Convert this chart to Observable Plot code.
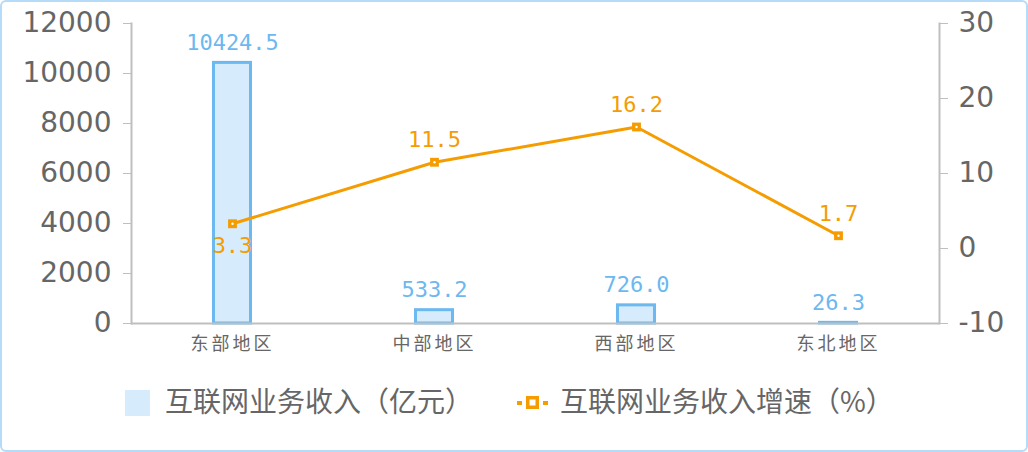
<!DOCTYPE html>
<html><head><meta charset="utf-8">
<script src="https://cdn.jsdelivr.net/npm/d3@7"></script>
<script src="https://cdn.jsdelivr.net/npm/@observablehq/plot@0.6"></script>
<style>
body{margin:0;background:#fff;}
#wrap{position:relative;width:1028px;height:452px;overflow:hidden;background:#fff;}
#border{position:absolute;left:0;top:0;width:1028px;height:452px;box-sizing:border-box;border:2px solid #b5dbf8;border-radius:6px;pointer-events:none;}
#chart{position:absolute;left:0;top:0;}
#chart g[aria-label="x-axis tick label"] text{letter-spacing:3px;}
.leg{position:absolute;top:382px;font-family:"Noto Sans CJK SC",sans-serif;font-size:28px;color:#666;line-height:36px;white-space:nowrap;}
</style></head>
<body>
<div id="wrap">
  <div id="chart"></div>
  <div class="leg" style="left:125px;"><span style="display:inline-block;width:25px;height:26px;background:#d6ebfb;vertical-align:-4px;margin-right:15px;"></span>互联网业务收入（亿元）</div>
  <div class="leg" style="left:517px;"><svg width="31" height="24" style="vertical-align:-3px;margin-right:12px;"><rect x="0" y="10" width="5" height="4" fill="#f59c00"/><rect x="26" y="10" width="5" height="4" fill="#f59c00"/><rect x="9" y="5" width="13" height="13" fill="#f59c00"/><rect x="12.5" y="8.5" width="6" height="6" fill="#fff"/></svg>互联网业务收入增速（%）</div>
  <div id="border"></div>
</div>
<script>
const regions = ["东部地区", "中部地区", "西部地区", "东北地区"];
const revenue = [10424.5, 533.2, 726.0, 26.3];
const growth = [3.3, 11.5, 16.2, 1.7];
const leftTicks = [0, 2000, 4000, 6000, 8000, 10000, 12000];
const rightTicks = [-10, 0, 10, 20, 30];

const yMax = 12000, gMin = -10, gMax = 30;
const g2y = v => (v - gMin) / (gMax - gMin) * yMax;
const y2g = v => v / yMax * (gMax - gMin) + gMin;

const data = regions.map((r, i) => ({region: r, revenue: revenue[i], growth: growth[i]}));

const blueText = "#6cb8f0", orange = "#f59c00", axisGray = "#bfbfbf", textGray = "#666";

const plot = Plot.plot({
  width: 1028,
  height: 362,
  marginLeft: 131,
  marginRight: 89,
  marginTop: 23,
  marginBottom: 39,
  x: {domain: regions, paddingInner: 0.8, paddingOuter: 0.4},
  y: {domain: [0, yMax]},
  style: {background: "transparent"},
  marks: [
    Plot.barY(data, {x: "region", y: "revenue", fill: "#d6ebfb", stroke: "#6cb8f0", strokeWidth: 3, insetLeft: 1.5, insetRight: 1.5}),
    Plot.frame({anchor: "left", stroke: axisGray, strokeWidth: 2}),
    Plot.frame({anchor: "right", stroke: axisGray, strokeWidth: 2}),
    Plot.ruleY([0], {stroke: axisGray, strokeWidth: 2}),
    Plot.axisY({ticks: leftTicks, tickFormat: d => String(d), tickSize: 8, tickPadding: 12, stroke: axisGray, fill: textGray, fontSize: 28, fontFamily: "DejaVu Sans", label: null}),
    Plot.axisY({anchor: "right", ticks: rightTicks.map(g2y), tickFormat: d => String(Math.round(y2g(d))), tickSize: 8, tickPadding: 11, stroke: axisGray, fill: textGray, fontSize: 28, fontFamily: "DejaVu Sans", label: null}),
    Plot.axisX({tickSize: 0, tickPadding: 14, fill: "#666", fontSize: 18, fontFamily: "Noto Sans CJK SC", label: null}),
    Plot.text(data, {x: "region", y: "revenue", text: d => d.revenue.toFixed(1), dy: -20, fill: blueText, fontSize: 22, fontFamily: "DejaVu Sans Mono"}),
    Plot.line(data, {x: "region", y: d => g2y(d.growth), stroke: orange, strokeWidth: 3}),
    Plot.dot(data, {x: "region", y: d => g2y(d.growth), symbol: "square", r: 5, fill: orange, stroke: "none"}),
    Plot.dot(data, {x: "region", y: d => g2y(d.growth), r: 1.2, fill: "#fff", stroke: "none"}),
    Plot.text(data, {x: "region", y: d => g2y(d.growth), text: d => d.growth.toFixed(1), fill: orange, fontSize: 22, fontFamily: "DejaVu Sans Mono", filter: (d, i) => i !== 0, dy: -22}),
    Plot.text(data.slice(0, 1), {x: "region", y: d => g2y(d.growth), text: d => d.growth.toFixed(1), dy: 22, fill: orange, fontSize: 22, fontFamily: "DejaVu Sans Mono"})
  ]
});
document.getElementById("chart").appendChild(plot);
</script>
</body></html>
